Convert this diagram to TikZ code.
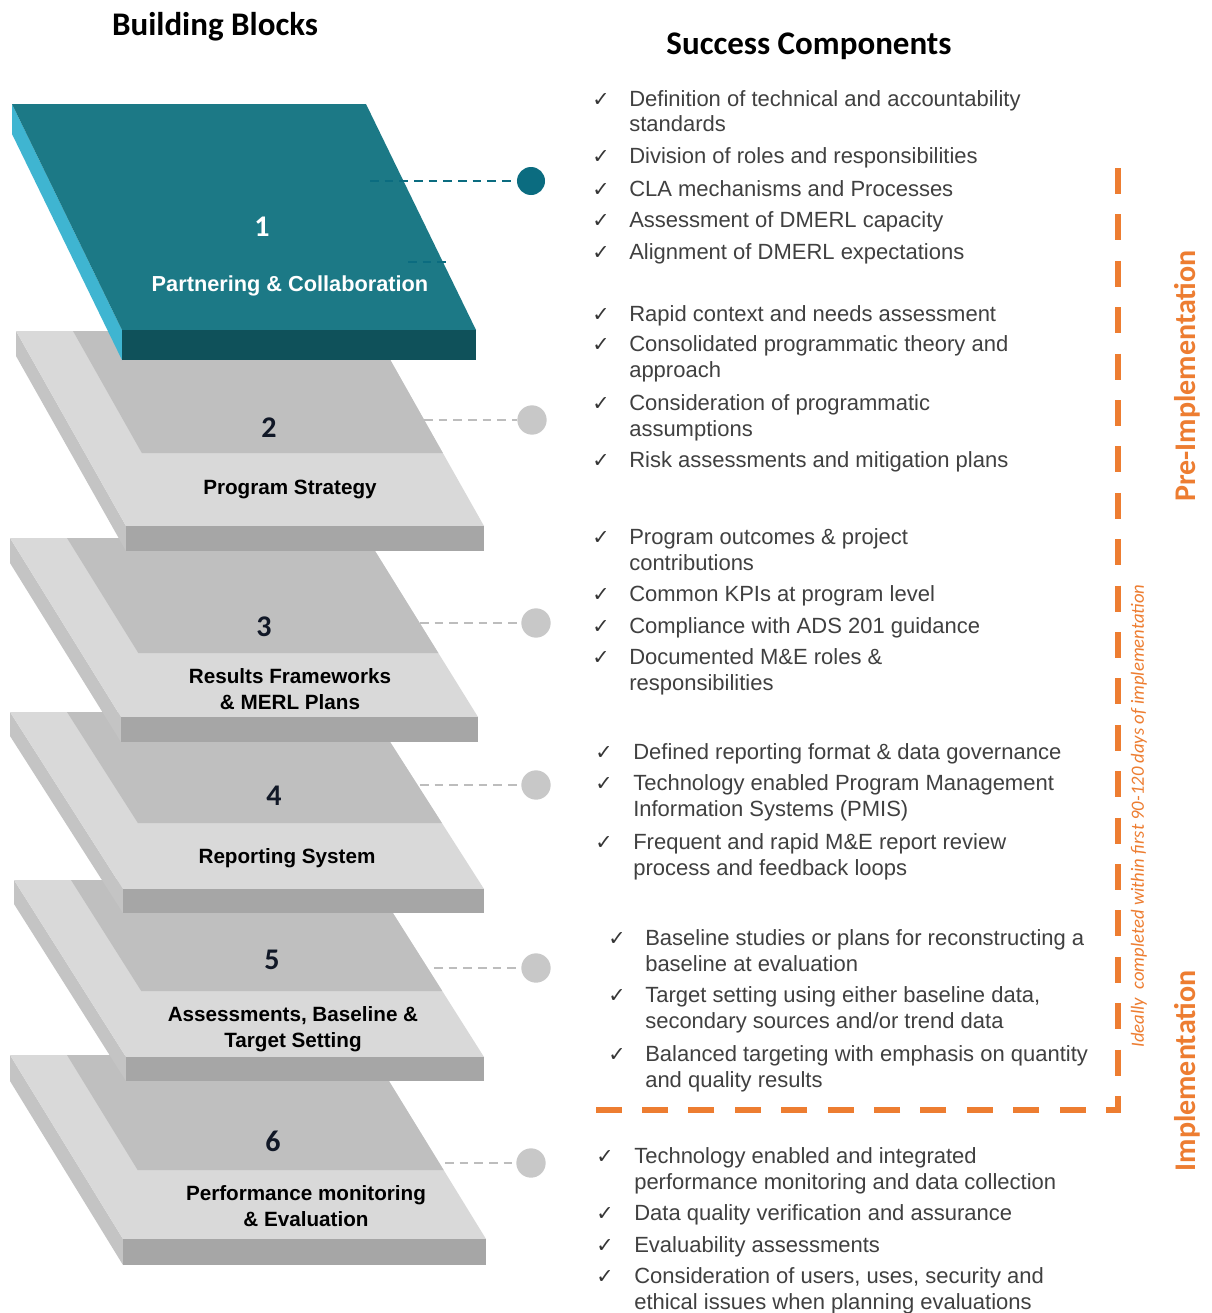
\documentclass[tikz,border=0pt]{standalone}
\usepackage{fontspec}
\setmainfont{Liberation Sans}
\newfontfamily\calfont{Carlito}
\newfontfamily\dvfont{DejaVu Sans}
\usetikzlibrary{calc}
\definecolor{tealtop}{HTML}{1C7986}
\definecolor{tealfront}{HTML}{0F515A}
\definecolor{tealside}{HTML}{3FB5D1}
\definecolor{tealdot}{HTML}{0B6C80}
\definecolor{gtop}{HTML}{D9D9D9}
\definecolor{gdark}{HTML}{BFBFBF}
\definecolor{gside}{HTML}{C4C4C4}
\definecolor{gfront}{HTML}{A6A6A6}
\definecolor{gdot}{HTML}{C8C8C8}
\definecolor{gline}{HTML}{BDBDBD}
\definecolor{orng}{HTML}{ED7D31}
\definecolor{txt}{HTML}{404040}
\definecolor{numc}{HTML}{111827}

\newcommand\slab[7]{%
  \pgfmathsetmacro\slabS{(#3-#1)/(#4-#2)}%
  \pgfmathsetmacro\slabTR{#1+#5-#3}%
  \pgfmathsetmacro\slabDL{#1+57+\slabS*(#6-#2)}%
  \pgfmathsetmacro\slabDR{#5-\slabS*(#4-#6)}%
  \fill[gside] (#1,#2) -- (#1,{#2+#7}) -- (#3,{#4+#7}) -- (#3,#4) -- cycle;
  \fill[gtop] (#1,#2) -- (\slabTR,#2) -- (#5,#4) -- (#3,#4) -- cycle;
  \fill[gdark] ({#1+57},#2) -- (\slabTR,#2) -- (\slabDR,#6) -- (\slabDL,#6) -- cycle;
  \fill[gfront] (#3,#4) rectangle (#5,{#4+#7});
}
% #1 name, #2 check x, #3 text x, #4 first baseline, #5 extra lines, #6 text
\newcommand\chk[6]{%
  \node[ckst] (#1c) at (#2,#4) {\char"2713};
  \node[itm] (#1t) at (#3,{#4+26*#5}) {#6};
}

\begin{document}
\begin{tikzpicture}[x=0.75pt,y=-0.75pt,
  itm/.style={anchor=base west, text=txt, inner sep=0pt, align=left,
    font=\fontsize{16.5pt}{19.5pt}\selectfont},
  ckst/.style={anchor=base, text=txt!85!black, inner sep=0pt,
    font=\dvfont\fontsize{15.5pt}{17pt}\selectfont},
  hdr/.style={font=\calfont\bfseries\fontsize{24.75pt}{28pt}\selectfont, text=black, inner sep=0pt},
  numl/.style={font=\calfont\bfseries\fontsize{22.5pt}{26pt}\selectfont, text=numc, inner sep=0pt},
  lbl/.style={font=\bfseries\fontsize{15.5pt}{19.5pt}\selectfont, text=black, inner sep=0pt, align=center},
  gdotn/.style={circle, fill=gdot, minimum size=22pt, inner sep=0pt},
  tdotn/.style={circle, fill=tealdot, minimum size=21pt, inner sep=0pt},
  gdash/.style={draw=gline, line width=1.4pt, dash pattern=on 6.5pt off 4.5pt},
  tdash/.style={draw=tealdot, line width=1.4pt, dash pattern=on 6.5pt off 4.5pt},
  orange dash/.style={draw=orng, line width=4.3pt, dash pattern=on 19.5pt off 15.3pt},
  vlab/.style={font=\calfont\bfseries\fontsize{22.5pt}{26pt}\selectfont, text=orng, rotate=90, inner sep=0pt},
  ilab/.style={font=\calfont\itshape\fontsize{14pt}{16pt}\selectfont, text=orng, rotate=90, inner sep=0pt}
]
\useasboundingbox (0,0) rectangle (1211,1313);
\fill[white] (0,0) rectangle (1211,1313);

% headers
\node[hdr] (hbb) at (215,27) {Building Blocks};
\node[hdr] (hsc) at (809,46) {Success Components};

% gray slabs, bottom first
\slab{10}{1055}{123}{1239}{486}{1170}{26}
\slab{14}{880}{126}{1057}{484}{991}{24}
\slab{10}{712}{123}{889}{484}{823}{24}
\slab{10}{538}{121}{717}{478}{653}{25}
\slab{16}{331}{126}{526}{484}{453}{25}

% teal slab
\fill[tealside] (12,104) -- (12,134) -- (122,360) -- (122,330) -- cycle;
\fill[tealtop] (12,104) -- (366,104) -- (476,330) -- (122,330) -- cycle;
\fill[tealfront] (122,330) rectangle (476,360);

% block labels
\node[numl, text=white] (n1) at (262,227) {1};
\node[lbl, text=white, font=\bfseries\fontsize{16.3pt}{19.5pt}\selectfont] (l1) at (290,286) {Partnering \& Collaboration};
\node[numl] (n2) at (269,428) {2};
\node[lbl] (l2) at (290,489) {Program Strategy};
\node[numl] (n3) at (264,627) {3};
\node[lbl] (l3) at (290,689) {Results Frameworks\\\& MERL Plans};
\node[numl] (n4) at (274,796) {4};
\node[lbl] (l4) at (287,858) {Reporting System};
\node[numl] (n5) at (272,960) {5};
\node[lbl] (l5) at (293,1029) {Assessments, Baseline \&\\Target Setting};
\node[numl] (n6) at (273,1141) {6};
\node[lbl] (l6) at (306,1206) {Performance monitoring\\\& Evaluation};

% connectors and dots
\node[tdotn] (d1) at (531,181) {};
\coordinate (s1) at (370,181);
\draw[tdash] (s1) -- (d1);
\coordinate (s1b) at (408,262);
\coordinate (e1b) at (447,262);
\draw[tdash] (s1b) -- (e1b);
\node[gdotn] (d2) at (532,420) {};
\coordinate (s2) at (424,420);
\draw[gdash] (s2) -- (d2);
\node[gdotn] (d3) at (536,623) {};
\coordinate (s3) at (420,623);
\draw[gdash] (s3) -- (d3);
\node[gdotn] (d4) at (536,785) {};
\coordinate (s4) at (420,785);
\draw[gdash] (s4) -- (d4);
\node[gdotn] (d5) at (536,968) {};
\coordinate (s5) at (434,968);
\draw[gdash] (s5) -- (d5);
\node[gdotn] (d6) at (531,1163) {};
\coordinate (s6) at (445,1163);
\draw[gdash] (s6) -- (d6);

% orange bracket
\coordinate (oc) at (1118,168);
\coordinate (ob) at (1118,1110);
\coordinate (oa) at (595,1110);
\draw[orange dash] (oc) -- (ob) -- (oa);

\node[vlab] (pre) at (1187,376) {Pre-Implementation};
\node[vlab] (impl) at (1187,1071) {Implementation};
\node[ilab] (ideal) at (1139,816) {Ideally\ \ completed within first 90-120 days of implementation};

% success components
\chk{a1}{601}{629}{106}{1}{Definition of technical and accountability\\standards}
\chk{a2}{601}{629}{163}{0}{Division of roles and responsibilities}
\chk{a3}{601}{629}{196}{0}{CLA mechanisms and Processes}
\chk{a4}{601}{629}{227}{0}{Assessment of DMERL capacity}
\chk{a5}{601}{629}{259}{0}{Alignment of DMERL expectations}

\chk{b1}{601}{629}{321}{0}{Rapid context and needs assessment}
\chk{b2}{601}{629}{351}{1}{Consolidated programmatic theory and\\approach}
\chk{b3}{601}{629}{410}{1}{Consideration of programmatic\\assumptions}
\chk{b4}{601}{629}{467}{0}{Risk assessments and mitigation plans}

\chk{c1}{601}{629}{544}{1}{Program outcomes \& project\\contributions}
\chk{c2}{601}{629}{601}{0}{Common KPIs at program level}
\chk{c3}{601}{629}{633}{0}{Compliance with ADS 201 guidance}
\chk{c4}{601}{629}{664}{1}{Documented M\&E roles \&\\responsibilities}

\chk{e1}{604}{633}{759}{0}{Defined reporting format \& data governance}
\chk{e2}{604}{633}{790}{1}{Technology enabled Program Management\\Information Systems (PMIS)}
\chk{e3}{604}{633}{849}{1}{Frequent and rapid M\&E report review\\process and feedback loops}

\chk{f1}{617}{645}{945}{1}{Baseline studies or plans for reconstructing a\\baseline at evaluation}
\chk{f2}{617}{645}{1002}{1}{Target setting using either baseline data,\\secondary sources and/or trend data}
\chk{f3}{617}{645}{1061}{1}{Balanced targeting with emphasis on quantity\\and quality results}

\chk{g1}{605}{634}{1163}{1}{Technology enabled and integrated\\performance monitoring and data collection}
\chk{g2}{605}{634}{1220}{0}{Data quality verification and assurance}
\chk{g3}{605}{634}{1252}{0}{Evaluability assessments}
\chk{g4}{605}{634}{1283}{1}{Consideration of users, uses, security and\\ethical issues when planning evaluations}
\end{tikzpicture}
\end{document}
